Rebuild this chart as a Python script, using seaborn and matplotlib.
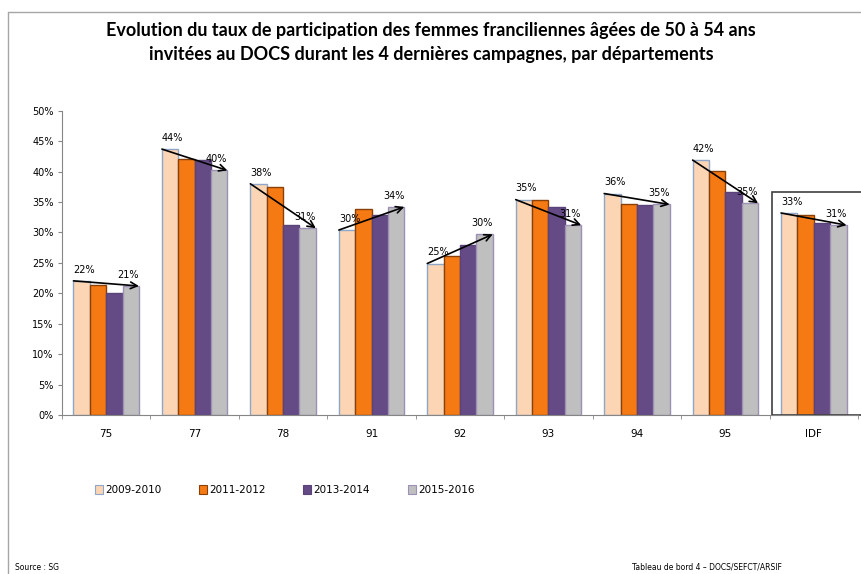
import pandas as pd
import matplotlib.pyplot as plt
import seaborn as sns
from matplotlib.patches import Rectangle
from matplotlib.lines import Line2D
from matplotlib.ticker import FuncFormatter, FixedLocator

# Données (taux de participation en %)
departements = ["75", "77", "78", "91", "92", "93", "94", "95", "IDF"]
campagnes = ["2009-2010", "2011-2012", "2013-2014", "2015-2016"]
taux_2009 = [22.05, 43.7, 38.0, 30.4, 24.9, 35.4, 36.4, 41.9, 33.2]
taux_2011 = [21.3, 42.1, 37.5, 33.8, 26.2, 35.4, 34.6, 40.1, 32.9]
taux_2013 = [20.1, 41.9, 31.3, 32.8, 27.9, 34.2, 34.5, 36.6, 31.5]
taux_2015 = [21.2, 40.2, 30.7, 34.2, 29.7, 31.2, 34.6, 34.8, 31.2]

couleurs = ["#FCD5B5", "#F57A14", "#644B86", "#BFBFBF"]
bords = ["#8EA7C9", "#8A4006", "#5A4378", "#9E8FB5"]

df = pd.DataFrame({
    "Departement": departements * 4,
    "Campagne": sum([[c] * len(departements) for c in campagnes], []),
    "Taux": taux_2009 + taux_2011 + taux_2013 + taux_2015,
})

sns.set_style("white")
plt.rcParams["font.family"] = ["DejaVu Sans"]
plt.rcParams["text.color"] = "black"
plt.rcParams["xtick.color"] = "black"
plt.rcParams["ytick.color"] = "black"

fig = plt.figure(figsize=(8.62, 5.74), dpi=100)
ax = fig.add_axes([0.0719, 0.277, 0.9235, 0.530])

sns.barplot(data=df, x="Departement", y="Taux", hue="Campagne",
            order=departements, hue_order=campagnes, palette=couleurs,
            saturation=1, width=0.74, legend=False, ax=ax)

for cont, bc in zip(ax.containers, bords):
    for bar in cont:
        bar.set_edgecolor(bc)
        bar.set_linewidth(1.0)

ax.set_ylim(0, 50)
ax.set_xlim(-0.5, len(departements) - 0.5)
ax.set_yticks(range(0, 51, 5))
ax.yaxis.set_major_formatter(FuncFormatter(lambda v, p: f"{v:.0f}%"))
ax.set_xlabel("")
ax.set_ylabel("")
ax.tick_params(axis="y", labelsize=7, length=3, color="#868686", pad=3, left=True)
ax.tick_params(axis="x", which="major", labelsize=7.5, length=0, pad=10)
ax.xaxis.set_minor_locator(FixedLocator([i + 0.5 for i in range(-1, len(departements))]))
ax.tick_params(axis="x", which="minor", length=3, color="#868686", bottom=True)
for s in ["top", "right"]:
    ax.spines[s].set_visible(False)
for s in ["left", "bottom"]:
    ax.spines[s].set_color("#868686")
    ax.spines[s].set_linewidth(0.8)

# Flèches d'évolution entre première et dernière campagne
premier = ax.containers[0]
dernier = ax.containers[-1]
for i in range(len(departements)):
    b0 = premier[i]
    b1 = dernier[i]
    x0, y0 = b0.get_x(), b0.get_height()
    x1, y1 = b1.get_x() + b1.get_width(), b1.get_height()
    ax.annotate("", xy=(x1, y1), xytext=(x0, y0),
                arrowprops=dict(arrowstyle="->", color="black", lw=1.2,
                                mutation_scale=12, shrinkA=0, shrinkB=0))
    ax.annotate(f"{round(y0):.0f}%", xy=(x0, y0), xytext=(0, 4.5),
                textcoords="offset points", ha="left", va="bottom", fontsize=7)
    ax.annotate(f"{round(y1):.0f}%", xy=(x1, y1), xytext=(0, 4.5),
                textcoords="offset points", ha="right", va="bottom", fontsize=7)

# Cadre autour de IDF
ax.add_patch(Rectangle((7.53, 0), 1.03, 36.6, fill=False, edgecolor="#404040",
                       linewidth=1.2, clip_on=False))

# Légende
handles = [Rectangle((0, 0), 1, 1, facecolor=c, edgecolor=b, linewidth=0.8)
           for c, b in zip(couleurs, bords)]
fig.legend(handles, campagnes, loc="center", bbox_to_anchor=(0.33, 0.146),
           ncol=4, frameon=False, fontsize=7.5, handlelength=0.8,
           handleheight=0.9, handletextpad=0.2, columnspacing=3.6)

# Titre
fig.text(0.5, 0.926, "Evolution du taux de participation des femmes franciliennes âgées de 50 à 54 ans\n"
         "invitées au DOCS durant les 4 dernières campagnes, par départements",
         ha="center", va="center", fontsize=13, fontweight="bold",
         family=["Lato", "DejaVu Sans"], linespacing=1.5)

# Cadre du graphique
fig.add_artist(Line2D([0.0093, 0.0093], [0.0, 0.979], color="#A6A6A6", lw=1))
fig.add_artist(Line2D([0.0093, 1.0], [0.979, 0.979], color="#A6A6A6", lw=1))

fig.text(0.017, 0.004, "Source : SG", fontsize=5.5, ha="left", va="bottom")
fig.text(0.733, 0.004, "Tableau de bord 4 – DOCS/SEFCT/ARSIF", fontsize=5.5,
         ha="left", va="bottom")

fig.savefig("out.png", dpi=100)
